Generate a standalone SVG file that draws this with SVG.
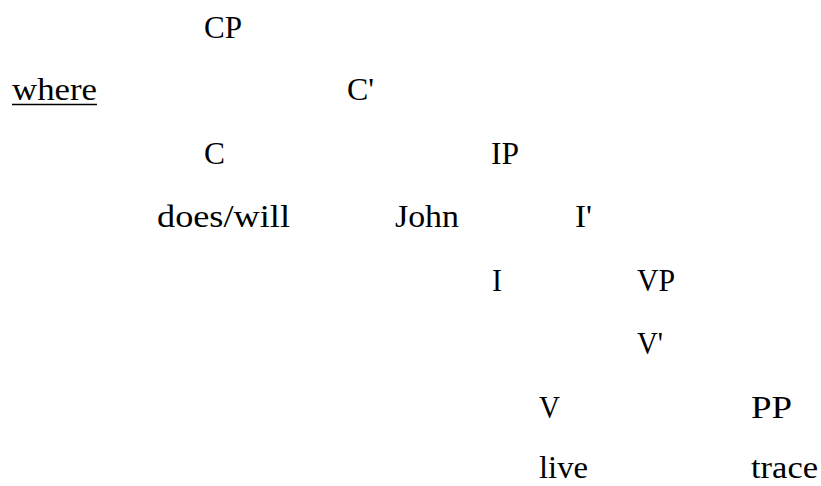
<svg xmlns="http://www.w3.org/2000/svg" width="821" height="486" viewBox="0 0 821 486">
<style>
text{font-family:"Liberation Serif","Times New Roman",serif;font-size:31px;fill:#000}
.ul{stroke:#000;stroke-width:1.7}
</style>
<rect width="821" height="486" fill="#fff"/>
<g id="connectors"/>
<g id="n-CP"><text x="204" y="38" textLength="38" lengthAdjust="spacingAndGlyphs">CP</text></g>
<g id="n-where"><text x="12" y="100" textLength="85" lengthAdjust="spacingAndGlyphs">where</text><line class="ul" x1="12" y1="104.5" x2="97" y2="104.5"/></g>
<g id="n-Cbar"><text x="347" y="100" textLength="27" lengthAdjust="spacingAndGlyphs">C'</text></g>
<g id="n-C"><text x="204" y="164" textLength="21" lengthAdjust="spacingAndGlyphs">C</text></g>
<g id="n-IP"><text x="491" y="164" textLength="28" lengthAdjust="spacingAndGlyphs">IP</text></g>
<g id="n-doeswill"><text x="157" y="227" textLength="133" lengthAdjust="spacingAndGlyphs">does/will</text></g>
<g id="n-John"><text x="395" y="227" textLength="64" lengthAdjust="spacingAndGlyphs">John</text></g>
<g id="n-Ibar"><text x="575" y="227" textLength="17" lengthAdjust="spacingAndGlyphs">I'</text></g>
<g id="n-I"><text x="492" y="291" textLength="10" lengthAdjust="spacingAndGlyphs">I</text></g>
<g id="n-VP"><text x="637" y="291" textLength="38" lengthAdjust="spacingAndGlyphs">VP</text></g>
<g id="n-Vbar"><text x="637" y="354" textLength="26" lengthAdjust="spacingAndGlyphs">V'</text></g>
<g id="n-V"><text x="539" y="418" textLength="21" lengthAdjust="spacingAndGlyphs">V</text></g>
<g id="n-PP"><text x="751" y="418" textLength="41" lengthAdjust="spacingAndGlyphs">PP</text></g>
<g id="n-live"><text x="539" y="478" textLength="49" lengthAdjust="spacingAndGlyphs">live</text></g>
<g id="n-trace"><text x="751" y="478" textLength="67" lengthAdjust="spacingAndGlyphs">trace</text></g>
</svg>
